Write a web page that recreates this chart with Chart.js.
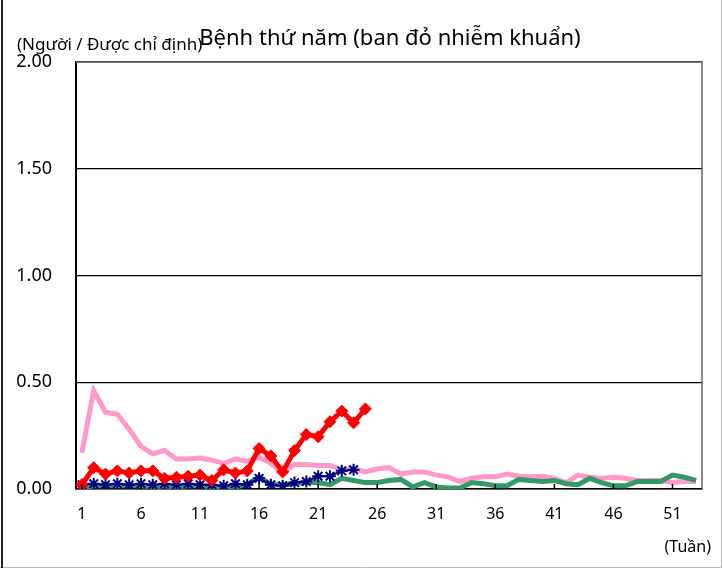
<!DOCTYPE html>
<html>
<head>
<meta charset="utf-8">
<script src="https://cdn.jsdelivr.net/npm/chart.js@4"></script>
<style>
  body { margin: 0; background: #fff; }
  #wrap { width: 723px; height: 569px; }
</style>
</head>
<body>
<div id="wrap"><canvas id="myChart" width="723" height="569"></canvas></div>
<script>
// Week labels (category axis)
const weeks = ['1','2','3','4','5','6','7','8','9','10','11','12','13','14','15','16','17','18','19','20',
  '21','22','23','24','25','26','27','28','29','30','31','32','33','34','35','36','37','38','39','40',
  '41','42','43','44','45','46','47','48','49','50','51','52','53'];

// Series values (per sentinel site)
const pinkSeries = [0.17, 0.46, 0.36, 0.35, 0.28, 0.20, 0.165, 0.18, 0.14, 0.14,
  0.145, 0.135, 0.12, 0.14, 0.13, 0.15, 0.12, 0.075, 0.115, 0.115,
  0.11, 0.11, 0.09, 0.095, 0.08, 0.095, 0.10, 0.07, 0.08, 0.08,
  0.065, 0.057, 0.035, 0.05, 0.057, 0.057, 0.07, 0.06, 0.057, 0.06,
  0.05, 0.03, 0.065, 0.055, 0.05, 0.055, 0.05, 0.04, 0.04, 0.04,
  0.03, 0.035, 0.035];

const greenSeries = [0.0, 0.015, 0.015, 0.015, 0.015, 0.015, 0.01, 0.015, 0.01, 0.015,
  0.015, 0.01, 0.01, 0.01, 0.02, 0.058, 0.02, 0.02, 0.025, 0.03,
  0.03, 0.02, 0.05, 0.04, 0.03, 0.03, 0.04, 0.045, 0.01, 0.03,
  0.01, 0.005, 0.005, 0.03, 0.025, 0.015, 0.015, 0.045, 0.04, 0.035,
  0.04, 0.025, 0.02, 0.05, 0.03, 0.015, 0.015, 0.035, 0.035, 0.035,
  0.065, 0.055, 0.04];

const navySeries = [0.02, 0.025, 0.02, 0.025, 0.02, 0.025, 0.02, 0.025, 0.02, 0.025,
  0.02, 0.02, 0.015, 0.025, 0.02, 0.05, 0.02, 0.015, 0.03, 0.035,
  0.06, 0.06, 0.085, 0.09];

const redSeries = [0.02, 0.10, 0.07, 0.085, 0.075, 0.085, 0.085, 0.05, 0.055, 0.06,
  0.065, 0.04, 0.09, 0.075, 0.085, 0.19, 0.155, 0.08, 0.18, 0.255,
  0.245, 0.315, 0.365, 0.31, 0.375];

const yTicks = [0, 0.5, 1.0, 1.5, 2.0];

const chartTitle = 'Bệnh thứ năm (ban đỏ nhiễm khuẩn)';
const yUnit = '(Người / Được chỉ định)';
const xUnit = '(Tuần)';

const FONT = "'Noto Sans', 'DejaVu Sans', sans-serif";

// Draws the frame, the plot border, inner tick marks and the free text
const decorations = {
  id: 'decorations',
  beforeDraw(chart) {
    const ctx = chart.ctx;
    ctx.save();
    ctx.fillStyle = '#fff';
    ctx.fillRect(0, 0, chart.width, chart.height);
    ctx.restore();
  },
  afterDraw(chart) {
    const ctx = chart.ctx;
    const a = chart.chartArea;
    const xs = chart.scales.x;
    ctx.save();
    // outer frame
    ctx.strokeStyle = '#bbb';
    ctx.lineWidth = 1;
    ctx.beginPath();
    ctx.moveTo(0, 567.5);
    ctx.lineTo(721.5, 567.5);
    ctx.lineTo(721.5, 0);
    ctx.stroke();
    ctx.strokeStyle = '#222';
    ctx.lineWidth = 2;
    ctx.beginPath();
    ctx.moveTo(2, 0);
    ctx.lineTo(2, 568);
    ctx.stroke();
    // plot border top/right
    ctx.strokeStyle = '#666';
    ctx.lineWidth = 1.5;
    ctx.beginPath();
    ctx.moveTo(a.left, a.top);
    ctx.lineTo(a.right, a.top);
    ctx.lineTo(a.right, a.bottom);
    ctx.stroke();
    // small inner ticks at labelled weeks
    ctx.strokeStyle = '#000';
    ctx.lineWidth = 1.5;
    weeks.forEach(function(w, i) {
      if (i % 5 === 0) {
        const px = xs.getPixelForValue(i);
        ctx.beginPath();
        ctx.moveTo(px, a.bottom);
        ctx.lineTo(px, a.bottom - 5);
        ctx.stroke();
      }
    });
    // texts
    ctx.fillStyle = '#000';
    ctx.textBaseline = 'middle';
    ctx.font = '17px ' + FONT;
    ctx.textAlign = 'left';
    ctx.fillText(yUnit, 17, 45);
    ctx.font = '22px ' + FONT;
    ctx.textAlign = 'center';
    ctx.fillText(chartTitle, 390, 39);
    ctx.font = '16px ' + FONT;
    ctx.textAlign = 'right';
    ctx.fillText(xUnit, 711, 547);
    ctx.restore();
  }
};

function drawChart() {
  const ctx = document.getElementById('myChart').getContext('2d');
  new Chart(ctx, {
    type: 'line',
    data: {
      labels: weeks,
      datasets: [
        {
          label: 'red',
          data: redSeries,
          borderColor: '#FF0000',
          backgroundColor: '#FF0000',
          borderWidth: 5,
          pointStyle: 'rectRot',
          pointRadius: 6,
          pointBorderWidth: 1,
          order: 1
        },
        {
          label: 'navy',
          data: navySeries,
          borderColor: '#000080',
          backgroundColor: '#000080',
          borderWidth: 2,
          pointStyle: 'star',
          pointRadius: 6,
          pointBorderWidth: 2,
          order: 2
        },
        {
          label: 'green',
          data: greenSeries,
          borderColor: '#339966',
          backgroundColor: '#339966',
          borderWidth: 5,
          pointRadius: 0,
          order: 3
        },
        {
          label: 'pink',
          data: pinkSeries,
          borderColor: '#FF99CC',
          backgroundColor: '#FF99CC',
          borderWidth: 5,
          pointRadius: 0,
          order: 4
        }
      ]
    },
    options: {
      responsive: false,
      animation: false,
      events: [],
      layout: { padding: { left: 0, top: 62, right: 21, bottom: 0 } },
      elements: { line: { tension: 0, borderJoinStyle: 'miter' } },
      plugins: {
        legend: { display: false },
        title: { display: false },
        tooltip: { enabled: false }
      },
      scales: {
        x: {
          offset: true,
          afterFit: function(s) { s.height = 80; },
          grid: { display: false, drawTicks: false },
          border: { color: '#000', width: 1.5 },
          ticks: {
            autoSkip: false,
            maxRotation: 0,
            padding: 16,
            color: '#000',
            font: { family: FONT, size: 16 },
            callback: function(v, i) { return i % 5 === 0 ? weeks[i] : ''; }
          }
        },
        y: {
          min: 0,
          max: 2,
          afterFit: function(s) { s.width = 76; },
          afterBuildTicks: function(s) { s.ticks = yTicks.map(function(v) { return { value: v }; }); },
          grid: { color: '#000', lineWidth: 1.2, drawTicks: false },
          border: { color: '#000', width: 2 },
          ticks: {
            padding: 24,
            color: '#000',
            font: { family: FONT, size: 18 },
            callback: function(v) { return Number(v).toFixed(2); }
          }
        }
      }
    },
    plugins: [decorations]
  });
}

window.onload = drawChart;
</script>
</body>
</html>
